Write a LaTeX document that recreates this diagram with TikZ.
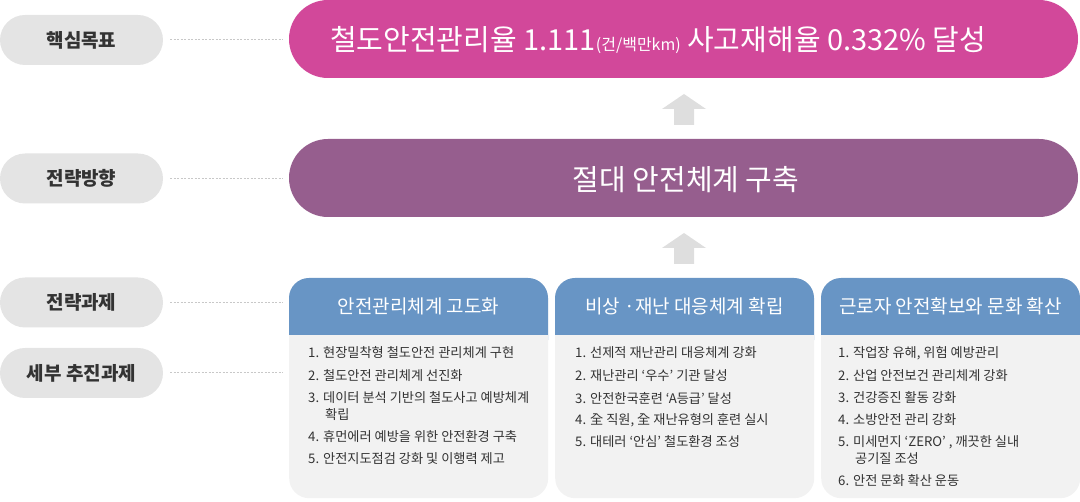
\documentclass[tikz,border=0pt]{standalone}
\usepackage{fontspec}
\setmainfont{Noto Sans CJK KR}
\definecolor{pinkc}{HTML}{D2489A}
\definecolor{purplec}{HTML}{965E8E}
\definecolor{bluec}{HTML}{6895C5}
\definecolor{bodyc}{HTML}{F2F2F2}
\definecolor{pillc}{HTML}{E4E4E4}
\definecolor{arrowc}{HTML}{DEDEDE}
\definecolor{dotc}{HTML}{C8C8C8}
\definecolor{darkc}{HTML}{333333}
\tikzset{
  pill/.style={fill=pillc, rounded corners=25pt, minimum width=163pt, minimum height=50pt, inner sep=0pt,
    text=darkc, font=\fontsize{19}{22}\selectfont\bfseries},
  bigbox/.style={rounded corners=39pt, minimum width=789pt, minimum height=78pt, inner sep=0pt},
  link/.style={draw=dotc, line width=1pt, dash pattern=on 2pt off 1.5pt, shorten <=7pt, shorten >=6pt},
  hdrtext/.style={text=white, font=\fontsize{19}{22}\selectfont, inner sep=0pt},
  item/.style={anchor=west, text=darkc, font=\fontsize{13.2}{15}\selectfont, inner sep=0pt},
  house/.style={fill=arrowc}
}
\begin{document}
\begin{tikzpicture}[x=1pt,y=-1pt]
\useasboundingbox (0,0) rectangle (1080,502);
% left labels
\node[pill] (l1) at (81.5,40) {핵심목표};
\node[pill] (l2) at (81.5,178.5) {전략방향};
\node[pill] (l3) at (81.5,302.5) {전략과제};
\node[pill] (l4) at (81.5,373) {세부 추진과제};
% goal and direction
\node[bigbox, fill=pinkc] (goal) at (683.5,39) {};
\node[anchor=west, text=white, inner sep=0pt, font=\fontsize{29}{32}\selectfont] (goalt) at (330,40)
  {철도안전관리율 1.111{\fontsize{16}{18}\selectfont(건/백만km)} 사고재해율 0.332\% 달성};
\node[bigbox, fill=purplec] (dir) at (683.5,178) {};
\node[text=white, inner sep=0pt, font=\fontsize{29}{32}\selectfont] (dirt) at (686,180) {절대 안전체계 구축};
% house arrows
\fill[house] (684,94) -- (706,109) -- (694,109) -- (694,125) -- (674,125) -- (674,109) -- (662,109) -- cycle;
\fill[house] (684,233) -- (706,248) -- (694,248) -- (694,264) -- (674,264) -- (674,248) -- (662,248) -- cycle;
% cards
\foreach \x/\n in {289/1,555/2,821/3}{
  \node[fill=bodyc, rounded corners=20pt, minimum width=259pt, minimum height=220pt, inner sep=0pt, anchor=north west] (c\n) at (\x,278) {};
  \fill[bluec, rounded corners=20pt] (\x,278) rectangle (\x+259,360);
  \fill[bodyc] (\x,335) rectangle (\x+259,370);
}
\node[hdrtext] (h1) at (418.5,306) {안전관리체계 고도화};
\node[hdrtext] (h2) at (684.5,306) {비상 ·재난 대응체계 확립};
\node[hdrtext] (h3) at (950.5,306) {근로자 안전확보와 문화 확산};
% card 1 items
\node[item] (a1) at (308,353) {1. 현장밀착형 철도안전 관리체계 구현};
\node[item] (a2) at (308,376) {2. 철도안전 관리체계 선진화};
\node[item] (a3) at (308,398) {3. 데이터 분석 기반의 철도사고 예방체계};
\node[item] (a3b) at (325,415) {확립};
\node[item] (a4) at (308,437) {4. 휴먼에러 예방을 위한 안전환경 구축};
\node[item] (a5) at (308,459) {5. 안전지도점검 강화 및 이행력 제고};
% card 2 items
\node[item] (b1) at (575,353) {1. 선제적 재난관리 대응체계 강화};
\node[item] (b2) at (575,376) {2. 재난관리 ‘우수’ 기관 달성};
\node[item] (b3) at (575,398) {3. 안전한국훈련 ‘A등급’ 달성};
\node[item] (b4) at (575,420) {4. 全 직원, 全 재난유형의 훈련 실시};
\node[item] (b5) at (575,442) {5. 대테러 ‘안심’ 철도환경 조성};
% card 3 items
\node[item] (d1) at (838,353) {1. 작업장 유해, 위험 예방관리};
\node[item] (d2) at (838,376) {2. 산업 안전보건 관리체계 강화};
\node[item] (d3) at (838,398) {3. 건강증진 활동 강화};
\node[item] (d4) at (838,420) {4. 소방안전 관리 강화};
\node[item] (d5) at (838,442) {5. 미세먼지 ‘ZERO’ , 깨끗한 실내};
\node[item] (d5b) at (855,459) {공기질 조성};
\node[item] (d6) at (838,481) {6. 안전 문화 확산 운동};
% dotted links
\draw[link] (l1.east) -- (l1.east -| goal.west);
\draw[link] (l2.east) -- (l2.east -| dir.west);
\draw[link] (l3.east) -- (l3.east -| c1.west);
\draw[link] (l4.east) -- (l4.east -| c1.west);
\end{tikzpicture}
\end{document}
